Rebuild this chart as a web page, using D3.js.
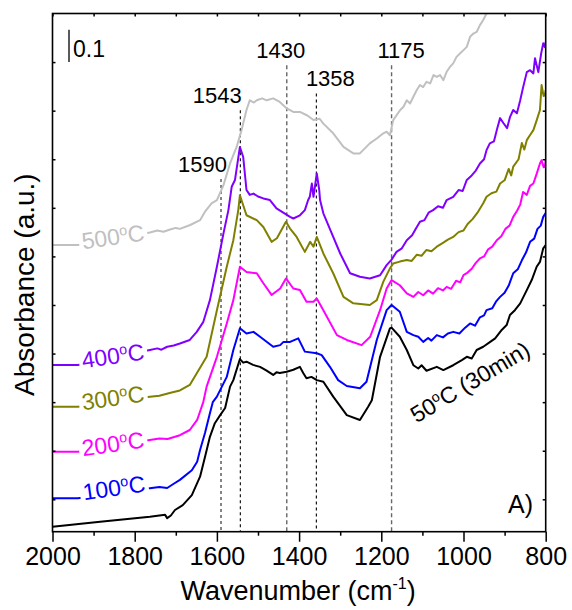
<!DOCTYPE html>
<html>
<head>
<meta charset="utf-8">
<script src="https://cdn.jsdelivr.net/npm/d3@7"></script>
<style>
  body { margin: 0; background: #fff; }
  svg { display: block; font-family: "Liberation Sans", Arial, sans-serif; }
</style>
</head>
<body>
<svg id="chart" width="572" height="610"></svg>
<script>
// In-situ IR spectra after adsorption, heated stepwise: [wavenumber (cm-1), absorbance]
const spec50 = [
  [2000,0.015],[1884,0.031],[1763,0.046],[1726,0.052],[1721,0.042],[1712,0.050],[1702,0.067],[1683,0.082],
  [1661,0.113],[1641,0.170],[1629,0.231],[1617,0.293],[1605,0.335],[1592,0.360],[1580,0.382],
  [1568,0.448],[1560,0.468],[1544,0.533],[1536,0.522],[1528,0.525],[1512,0.515],[1495,0.509],
  [1480,0.498],[1463,0.484],[1455,0.492],[1447,0.490],[1430,0.494],[1414,0.500],[1398,0.509],
  [1390,0.490],[1382,0.474],[1370,0.478],[1357,0.468],[1341,0.463],[1317,0.417],[1284,0.360],
  [1252,0.345],[1232,0.386],[1223,0.406],[1203,0.540],[1179,0.628],[1175,0.630],[1155,0.602],
  [1138,0.561],[1122,0.514],[1110,0.504],[1102,0.514],[1090,0.497],[1065,0.509],[1049,0.499],
  [1025,0.514],[1004,0.530],[992,0.540],[980,0.535],[968,0.561],[952,0.571],[935,0.586],
  [923,0.597],[907,0.623],[895,0.638],[887,0.669],[875,0.684],[862,0.705],[846,0.746],
  [834,0.777],[822,0.818],[814,0.833],[806,0.875],[800,0.885]
];
const spec100 = [
  [2000,0.103],[1938,0.103],[1763,0.134],[1740,0.138],[1721,0.135],[1705,0.148],[1690,0.160],
  [1661,0.190],[1648,0.216],[1641,0.252],[1629,0.305],[1617,0.366],[1610,0.400],[1600,0.417],
  [1576,0.478],[1560,0.561],[1544,0.628],[1528,0.612],[1511,0.617],[1495,0.602],[1463,0.571],
  [1446,0.576],[1438,0.586],[1422,0.586],[1402,0.597],[1386,0.556],[1357,0.551],[1345,0.545],
  [1325,0.509],[1305,0.468],[1284,0.450],[1252,0.443],[1236,0.463],[1211,0.592],[1187,0.684],
  [1175,0.700],[1155,0.679],[1138,0.617],[1122,0.607],[1110,0.602],[1098,0.586],[1086,0.598],
  [1078,0.590],[1065,0.607],[1050,0.600],[1038,0.612],[1025,0.617],[1010,0.612],[996,0.630],
  [984,0.643],[972,0.636],[960,0.662],[950,0.668],[944,0.684],[930,0.690],[920,0.712],
  [911,0.725],[900,0.738],[890,0.760],[879,0.798],[868,0.810],[858,0.838],[848,0.862],
  [838,0.895],[828,0.905],[820,0.935],[812,0.945],[806,0.972],[800,0.984]
];
const spec200 = [
  [2000,0.247],[1938,0.247],[1763,0.283],[1740,0.288],[1720,0.286],[1690,0.298],[1666,0.314],
  [1648,0.345],[1633,0.401],[1625,0.448],[1600,0.540],[1576,0.643],[1560,0.715],[1544,0.818],
  [1528,0.802],[1503,0.798],[1487,0.767],[1467,0.731],[1446,0.751],[1432,0.782],[1414,0.751],
  [1398,0.746],[1382,0.710],[1365,0.710],[1357,0.720],[1341,0.684],[1308,0.607],[1284,0.592],
  [1248,0.576],[1227,0.602],[1203,0.684],[1187,0.751],[1175,0.777],[1155,0.761],[1138,0.736],
  [1122,0.725],[1110,0.740],[1098,0.730],[1086,0.745],[1074,0.735],[1062,0.752],[1050,0.745],
  [1041,0.756],[1030,0.750],[1018,0.775],[1008,0.770],[1000,0.792],[990,0.800],[980,0.812],
  [970,0.830],[960,0.844],[950,0.850],[940,0.872],[930,0.880],[919,0.900],[908,0.912],
  [898,0.935],[888,0.945],[879,0.972],[870,0.990],[862,1.010],[855,1.049],[846,1.040],
  [838,1.068],[830,1.075],[822,1.105],[814,1.137],[810,1.147],[805,1.125],[802,1.127],[800,1.147]
];
const spec300 = [
  [2000,0.386],[1938,0.386],[1763,0.417],[1740,0.420],[1715,0.428],[1690,0.436],[1666,0.453],
  [1625,0.540],[1600,0.684],[1576,0.818],[1560,0.900],[1548,0.993],[1544,1.039],[1528,0.977],
  [1503,0.962],[1487,0.941],[1467,0.895],[1454,0.906],[1432,0.957],[1422,0.936],[1406,0.910],
  [1386,0.864],[1373,0.895],[1365,0.880],[1357,0.910],[1341,0.859],[1317,0.798],[1292,0.725],
  [1268,0.705],[1228,0.700],[1211,0.715],[1195,0.772],[1179,0.813],[1171,0.828],[1155,0.834],
  [1138,0.839],[1126,0.836],[1114,0.855],[1102,0.852],[1090,0.870],[1078,0.866],[1065,0.880],
  [1050,0.892],[1038,0.902],[1025,0.910],[1012,0.925],[1000,0.930],[990,0.950],[978,0.965],
  [966,0.985],[952,1.014],[944,1.034],[932,1.045],[920,1.050],[911,1.075],[900,1.085],
  [890,1.120],[884,1.100],[879,1.127],[866,1.150],[858,1.200],[852,1.180],[846,1.209],
  [838,1.225],[830,1.240],[822,1.270],[814,1.302],[810,1.379],[805,1.345],[802,1.348],[800,1.363]
];
const spec400 = [
  [2000,0.515],[1938,0.515],[1763,0.561],[1745,0.566],[1735,0.562],[1721,0.571],[1705,0.575],
  [1690,0.581],[1666,0.592],[1649,0.617],[1633,0.648],[1617,0.715],[1600,0.818],[1584,0.921],
  [1572,0.993],[1564,1.065],[1556,1.086],[1544,1.188],[1536,1.157],[1528,1.055],[1520,1.040],
  [1511,1.044],[1500,1.035],[1487,1.029],[1471,1.024],[1455,0.998],[1422,0.972],[1414,0.967],
  [1398,0.977],[1386,0.993],[1378,1.024],[1374,1.034],[1369,1.075],[1365,1.034],[1357,1.106],
  [1351,1.055],[1349,1.024],[1341,0.983],[1317,0.910],[1300,0.859],[1276,0.798],[1252,0.787],
  [1228,0.782],[1203,0.792],[1187,0.823],[1175,0.840],[1163,0.864],[1150,0.875],[1138,0.900],
  [1125,0.915],[1115,0.938],[1106,0.957],[1095,0.962],[1085,0.985],[1074,0.993],[1062,1.005],
  [1050,1.000],[1041,1.024],[1025,1.034],[1012,1.055],[1002,1.052],[992,1.086],[980,1.100],
  [970,1.115],[960,1.137],[950,1.150],[944,1.178],[936,1.199],[926,1.205],[918,1.245],
  [911,1.277],[903,1.262],[894,1.246],[887,1.280],[879,1.302],[870,1.292],[862,1.332],
  [855,1.372],[846,1.419],[838,1.425],[830,1.415],[826,1.462],[818,1.419],[811,1.477],
  [806,1.508],[802,1.496],[800,1.512]
];
const spec500 = [
  [2000,0.885],[1938,0.885],[1763,0.924],[1745,0.930],[1730,0.926],[1714,0.933],[1700,0.938],
  [1690,0.935],[1665,0.947],[1641,0.962],[1629,0.988],[1613,1.014],[1600,1.024],[1584,1.070],
  [1568,1.137],[1552,1.188],[1540,1.240],[1528,1.302],[1520,1.332],[1510,1.325],[1503,1.332],
  [1490,1.338],[1479,1.332],[1463,1.338],[1447,1.327],[1430,1.307],[1414,1.296],[1398,1.296],
  [1380,1.285],[1365,1.271],[1350,1.275],[1341,1.260],[1317,1.230],[1292,1.188],[1268,1.168],
  [1252,1.168],[1228,1.199],[1211,1.214],[1195,1.230],[1187,1.235],[1179,1.224],[1171,1.271],
  [1154,1.302],[1146,1.312],[1138,1.332],[1130,1.322],[1122,1.343],[1114,1.363],[1106,1.379],
  [1098,1.373],[1090,1.389],[1081,1.384],[1073,1.410],[1065,1.404],[1057,1.410],[1049,1.394],
  [1041,1.420],[1033,1.435],[1025,1.446],[1017,1.466],[1008,1.477],[1000,1.487],[992,1.497],
  [984,1.528],[976,1.538],[968,1.543],[960,1.564],[952,1.580],[944,1.600],[930,1.641],[915,1.678]
];

const seriesNames  = ["50°C (30min)", "100°C", "200°C", "300°C", "400°C", "500°C"];
const seriesColors = ["#000000", "#0000ff", "#ff00ff", "#808000", "#8000ff", "#c0c0c0"];
const seriesData   = [spec50, spec100, spec200, spec300, spec400, spec500];

const peakPositions = [1590, 1543, 1430, 1358, 1175];
const peakLineTops  = [1.089, 1.301, 1.440, 1.353, 1.440];   // absorbance where each marker starts
const peakColors    = ["#222", "#000", "#666", "#000", "#666"];

const xTicks = [2000, 1800, 1600, 1400, 1200, 1000, 800];
const xMinorTicks = [1900, 1700, 1500, 1300, 1100, 900];
const yTicks = [0.1, 0.25, 0.4, 0.55, 0.7, 0.85, 1.0, 1.15, 1.3, 1.45];

// ---- layout ----
const svg = d3.select("#chart");
const W = 572, H = 610;
const margin = { left: 52.5, right: W - 545.7, top: 13.5, bottom: H - 531.7 };
const x = d3.scaleLinear().domain([2000, 800]).range([margin.left, W - margin.right]);
const y = d3.scaleLinear().domain([0, 1.6]).range([H - margin.bottom, margin.top]);

svg.append("defs").append("clipPath").attr("id", "plot-clip")
  .append("rect")
  .attr("x", x(2000)).attr("y", y(1.6))
  .attr("width", x(800) - x(2000)).attr("height", y(0) - y(1.6));

// peak marker lines with wavenumber labels
const peakLabelOffsets = [-18.5, -23, -6, 14, 9.5];
const peaks = svg.append("g");
peakPositions.forEach((p, i) => {
  const grey = i === 2 || i === 4;
  peaks.append("line")
    .attr("x1", x(p)).attr("x2", x(p))
    .attr("y1", y(peakLineTops[i])).attr("y2", y(0))
    .attr("stroke", peakColors[i])
    .attr("stroke-width", grey ? 1.4 : 1.1)
    .attr("stroke-dasharray", grey ? "4,3" : "3,3");
  peaks.append("text")
    .attr("x", x(p) + peakLabelOffsets[i])
    .attr("y", y(peakLineTops[i]) - 7)
    .attr("text-anchor", "middle")
    .attr("font-size", 22)
    .attr("fill", "#000")
    .text(p);
});

// spectra
const line = d3.line().x(d => x(d[0])).y(d => y(d[1]));
const curves = svg.append("g").attr("clip-path", "url(#plot-clip)");
seriesData.forEach((s, i) => {
  curves.append("path")
    .datum(s)
    .attr("d", line)
    .attr("fill", "none")
    .attr("stroke", seriesColors[i])
    .attr("stroke-width", 2)
    .attr("stroke-linejoin", "round");
});

// curve labels: temperature with raised "o"
function tempLabel(g, name, color, size) {
  const m = name.match(/^(\d+)°C(.*)$/);
  const t = g.append("text")
    .attr("font-size", size)
    .attr("fill", color)
    .attr("text-anchor", "middle");
  t.append("tspan").text(m[1]);
  t.append("tspan").attr("font-size", size * 0.62).attr("dy", -size * 0.36).text("o");
  t.append("tspan").attr("dy", size * 0.36).text("C" + m[2]);
  return t;
}

const labelPlaces = [
  { cx: 470, cy: 382, rot: -31, bg: false },
  { cx: 114, cy: 488, rot: -8, bg: true },
  { cx: 113, cy: 444, rot: -8, bg: true },
  { cx: 113, cy: 398, rot: -8, bg: true },
  { cx: 113, cy: 356, rot: -8, bg: true },
  { cx: 113, cy: 237, rot: -8, bg: true }
];
seriesNames.forEach((name, i) => {
  const pl = labelPlaces[i];
  const g = svg.append("g").attr("transform", `translate(${pl.cx},${pl.cy}) rotate(${pl.rot})`);
  const bgRect = g.append("rect").attr("fill", "#fff");
  const t = tempLabel(g, name, seriesColors[i], 23).attr("y", 8);
  if (pl.bg) {
    const bb = t.node().getBBox();
    bgRect.attr("x", bb.x - 3).attr("y", bb.y + 2).attr("width", bb.width + 6).attr("height", bb.height - 4);
  } else {
    bgRect.remove();
  }
});

// frame
svg.append("rect")
  .attr("x", x(2000)).attr("y", y(1.6))
  .attr("width", x(800) - x(2000)).attr("height", y(0) - y(1.6))
  .attr("fill", "none").attr("stroke", "#000").attr("stroke-width", 1.6);

// axes
const axisBottom = svg.append("g").attr("transform", `translate(0,${y(0)})`)
  .call(d3.axisBottom(x).tickValues(xTicks).tickSize(10).tickPadding(6).tickFormat(d3.format("d")));
svg.append("g").attr("transform", `translate(0,${y(0)})`)
  .call(d3.axisBottom(x).tickValues(xMinorTicks).tickSize(4).tickFormat(""))
  .call(g => g.select(".domain").remove());
svg.append("g").attr("transform", `translate(0,${y(1.6)})`)
  .call(d3.axisBottom(x).tickValues(xTicks.concat(xMinorTicks)).tickSize(3).tickFormat(""))
  .call(g => g.select(".domain").remove());
svg.append("g").attr("transform", `translate(${x(2000)},0)`)
  .call(d3.axisRight(y).tickValues(yTicks).tickSize(3).tickFormat(""))
  .call(g => g.select(".domain").remove());
svg.append("g").attr("transform", `translate(${x(800)},0)`)
  .call(d3.axisLeft(y).tickValues(yTicks).tickSize(3).tickFormat(""))
  .call(g => g.select(".domain").remove());

svg.selectAll(".tick line").attr("stroke", "#000").attr("stroke-width", 1.5);
axisBottom.select(".domain").remove();
axisBottom.selectAll(".tick text")
  .attr("font-size", 25)
  .attr("font-family", "'Liberation Sans', Arial, sans-serif")
  .attr("fill", "#000");

// axis titles
const xTitle = svg.append("text")
  .attr("x", (x(2000) + x(800)) / 2 - 1).attr("y", 600)
  .attr("text-anchor", "middle").attr("font-size", 27).attr("fill", "#000");
xTitle.append("tspan").text("Wavenumber (cm");
xTitle.append("tspan").attr("font-size", 16).attr("dy", -11).text("-1");
xTitle.append("tspan").attr("dy", 11).text(")");

svg.append("text")
  .attr("transform", `translate(34,${(y(0) + y(1.6)) / 2 + 12}) rotate(-90)`)
  .attr("text-anchor", "middle").attr("font-size", 28).attr("fill", "#000")
  .text("Absorbance (a.u.)");

// absorbance scale bar
svg.append("line")
  .attr("x1", 69).attr("x2", 69)
  .attr("y1", y(1.55)).attr("y2", y(1.45))
  .attr("stroke", "#000").attr("stroke-width", 1.3);
svg.append("text")
  .attr("x", 73).attr("y", 57)
  .attr("font-size", 23).attr("fill", "#000")
  .text("0.1");

// panel tag
svg.append("text")
  .attr("x", 533).attr("y", 513)
  .attr("text-anchor", "end").attr("font-size", 25).attr("fill", "#000")
  .text("A)");
</script>
</body>
</html>
